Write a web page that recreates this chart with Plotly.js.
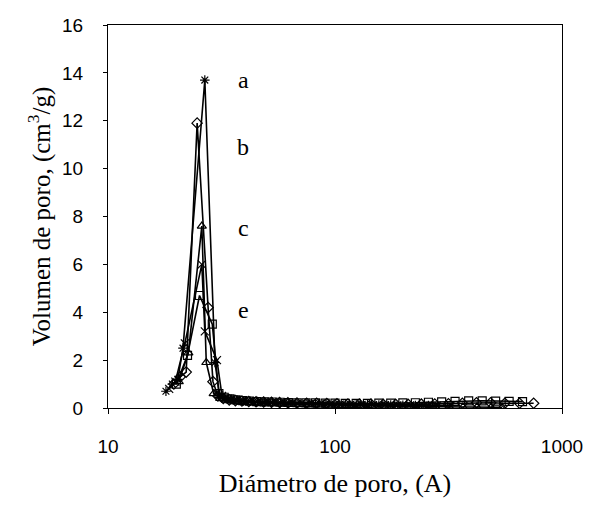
<!DOCTYPE html>
<html><head><meta charset="utf-8">
<script src="https://cdn.plot.ly/plotly-3.0.1.min.js"></script>
<style>html,body{margin:0;padding:0;background:#fff}#chart{width:591px;height:505px}</style>
</head><body><div id="chart"></div>
<script>
// Pore diameter (Å) and pore volume (cm3/g) per sample
const a_x = [18.0, 19.2, 20.3, 21.4, 26.7, 29.6, 31.0, 32.8, 34.8, 37.0, 39.5, 42.3, 45.5, 49.0, 53.0, 57.5, 62.5, 68.0, 74.5, 82.0, 90.5, 100, 111, 124, 139, 156, 176, 199, 226, 258];
const a_y = [0.7, 1.0, 1.2, 2.5, 13.7, 1.9, 0.55, 0.42, 0.36, 0.33, 0.3, 0.28, 0.27, 0.25, 0.24, 0.22, 0.21, 0.2, 0.19, 0.18, 0.17, 0.16, 0.15, 0.14, 0.13, 0.12, 0.12, 0.11, 0.1, 0.1];

const b_x = [19.5, 20.8, 22.1, 24.7, 27.6, 29.0, 30.5, 32.2, 34.2, 36.4, 38.9, 41.7, 44.9, 48.5, 52.5, 57, 62, 68, 75, 83, 92, 102, 114, 128, 144, 163, 185, 210, 240, 275, 316, 364, 420, 485, 560, 650, 750];
const b_y = [1.0, 1.3, 1.5, 11.9, 4.2, 1.1, 0.5, 0.4, 0.34, 0.31, 0.29, 0.27, 0.26, 0.25, 0.24, 0.23, 0.22, 0.21, 0.2, 0.2, 0.19, 0.18, 0.17, 0.16, 0.16, 0.15, 0.15, 0.15, 0.16, 0.17, 0.18, 0.2, 0.22, 0.22, 0.2, 0.2, 0.2];

const c_x = [20.5, 22.6, 25.9, 27.1, 29.2, 31.2, 33.0, 35.0, 37.3, 39.9, 42.8, 46.1, 49.8, 54.0, 58.7, 64, 70, 77, 85, 94, 104, 116, 130, 146, 165, 187, 212, 242, 277, 318, 366, 422, 487, 545];
const c_y = [1.1, 2.3, 7.6, 1.9, 0.6, 0.4, 0.33, 0.3, 0.27, 0.25, 0.23, 0.21, 0.2, 0.19, 0.17, 0.16, 0.15, 0.14, 0.13, 0.12, 0.11, 0.1, 0.09, 0.08, 0.08, 0.07, 0.06, 0.06, 0.05, 0.05, 0.04, 0.04, 0.03, 0.03];

const d_x = [18.6, 19.8, 21.8, 25.9, 26.7, 30.2, 31.8, 33.7, 35.8, 38.1, 40.7, 43.6, 46.9, 50.6, 54.8, 59.5, 65, 71, 78, 86, 95, 105, 117, 131, 147, 166, 188, 214, 245, 281, 323];
const d_y = [0.8, 1.1, 2.7, 6.0, 3.2, 2.0, 0.5, 0.38, 0.33, 0.3, 0.28, 0.26, 0.24, 0.23, 0.22, 0.2, 0.19, 0.18, 0.17, 0.16, 0.15, 0.14, 0.14, 0.13, 0.12, 0.12, 0.11, 0.11, 0.1, 0.1, 0.1];

const e_x = [20.0, 22.4, 25.3, 28.8, 30.8, 32.5, 34.5, 36.7, 39.2, 42.0, 45.2, 48.8, 52.8, 57.3, 62.3, 68, 74.5, 82, 90.5, 100, 111, 124, 139, 156, 176, 199, 226, 258, 295, 338, 388, 445, 510, 585, 670];
const e_y = [1.0, 2.2, 4.7, 3.5, 0.6, 0.45, 0.38, 0.34, 0.31, 0.29, 0.27, 0.26, 0.25, 0.24, 0.23, 0.22, 0.21, 0.21, 0.2, 0.2, 0.19, 0.19, 0.19, 0.2, 0.2, 0.21, 0.22, 0.24, 0.26, 0.28, 0.3, 0.3, 0.29, 0.28, 0.27];

const seriesNames = ["a", "b", "c", "d", "e"];
const labelNames = ["a", "b", "c", "e"];
const labelX = [39.4, 39.4, 39.4, 39.4];
const labelY = [13.7, 10.9, 7.5, 4.1];
const xTickVals = [10, 100, 1000];
const xTickText = ["10", "100", "1000"];
const yTickVals = [0, 2, 4, 6, 8, 10, 12, 14, 16];

const xs = [a_x, b_x, c_x, d_x, e_x];
const ys = [a_y, b_y, c_y, d_y, e_y];
const symbols = ["asterisk-open", "diamond-open", "triangle-up-open", "x-thin-open", "square-open"];

const traces = xs.map((x, i) => ({
  x: x, y: ys[i], name: seriesNames[i], type: "scatter", mode: "lines+markers",
  line: {color: "#000", width: 1.6},
  marker: {symbol: symbols[i], size: 8, color: "#000", line: {color: "#000", width: 1.2}},
  showlegend: false, hoverinfo: "x+y"
}));

const annotations = labelNames.map((t, i) => ({
  x: Math.log10(labelX[i]), y: labelY[i], xref: "x", yref: "y", text: t,
  showarrow: false, font: {family: "Liberation Serif, Times New Roman, serif", size: 24, color: "#000"}
}));

const layout = {
  width: 591, height: 505,
  margin: {l: 108, r: 29, t: 25, b: 97},
  paper_bgcolor: "#fff", plot_bgcolor: "#fff",
  showlegend: false,
  font: {family: "Liberation Sans, Arial, sans-serif", color: "#000"},
  xaxis: {
    type: "log", range: [1, 3], tickvals: xTickVals, ticktext: xTickText,
    ticks: "outside", ticklen: 5, tickcolor: "#000", tickwidth: 1,
    showline: true, linecolor: "#000", linewidth: 1, mirror: true,
    showgrid: false, zeroline: false,
    tickfont: {size: 19, family: "Liberation Sans, Arial, sans-serif"},
    ticklabelstandoff: 16,
    title: {text: "Diámetro de poro, (A)", font: {family: "Liberation Serif, Times New Roman, serif", size: 26}, standoff: 18}
  },
  yaxis: {
    range: [0, 16], tickvals: yTickVals,
    ticks: "outside", ticklen: 4, tickcolor: "#000", tickwidth: 1,
    showline: true, linecolor: "#000", linewidth: 1, mirror: true,
    showgrid: false, zeroline: false,
    tickfont: {size: 19, family: "Liberation Sans, Arial, sans-serif"},
    ticklabelstandoff: 16,
    title: {text: "Volumen de poro, (cm<sup>3</sup>/g)", font: {family: "Liberation Serif, Times New Roman, serif", size: 25}, standoff: 4}
  },
  annotations: annotations
};

Plotly.newPlot("chart", traces, layout, {displayModeBar: false, staticPlot: true});
</script>
</body></html>
